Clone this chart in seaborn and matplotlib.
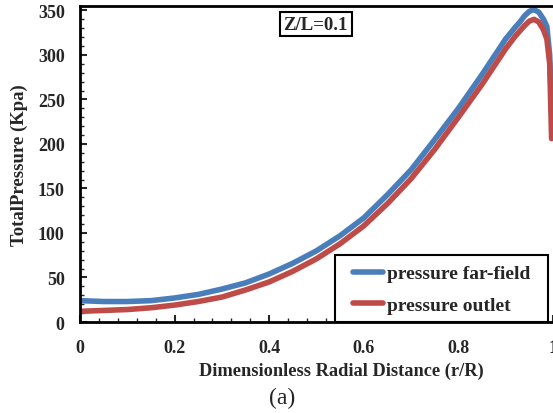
import numpy as np
import pandas as pd
import matplotlib
matplotlib.use('Agg')
import matplotlib.pyplot as plt
import seaborn as sns
from matplotlib.ticker import MultipleLocator
from matplotlib.patches import Rectangle

# data
r_dist = [0, 0.05, 0.1, 0.15, 0.2, 0.25, 0.3, 0.35, 0.4, 0.45, 0.5, 0.55, 0.6, 0.65,
          0.7, 0.75, 0.8, 0.85, 0.9, 0.92, 0.93, 0.94, 0.95, 0.96, 0.97, 0.98, 0.987, 0.993, 0.997]
far_field = [24, 23, 23, 24, 27, 31, 37, 44, 54, 66, 80, 97, 117, 143,
             171, 205, 240, 278, 318, 331, 337, 344, 349, 351, 348, 340, 332, 300, 240]
outlet = [12, 13, 14, 16, 19, 23, 28, 36, 45, 57, 71, 88, 108, 133,
          161, 194, 230, 267, 307, 321, 327, 333, 338, 340, 337, 328, 318, 290, 206]
series_names = ['pressure far-field', 'pressure outlet']
series_colors = ['#4a7ebb', '#be4b48']

df = pd.DataFrame({
    'r': r_dist * 2,
    'p': far_field + outlet,
    'series': [series_names[0]] * len(r_dist) + [series_names[1]] * len(r_dist),
})

sns.set_style('ticks')
plt.rcParams['font.family'] = ['Liberation Serif', 'DejaVu Serif']
plt.rcParams['font.weight'] = 'bold'

fig = plt.figure(figsize=(5.53, 4.14), dpi=100)
ax = fig.add_axes([0.1447, 0.2198, 0.8553, 0.7633])

sns.lineplot(data=df, x='r', y='p', hue='series', palette=series_colors,
             linewidth=4, sort=False, ax=ax)

ax.set_xlim(0, 1)
ax.set_ylim(0, 355)
ax.xaxis.set_major_locator(MultipleLocator(0.2))
ax.xaxis.set_minor_locator(MultipleLocator(0.04))
ax.yaxis.set_major_locator(MultipleLocator(50))
ax.yaxis.set_minor_locator(MultipleLocator(10))
ax.tick_params(which='major', direction='in', length=5, width=1.5, labelsize=13)
ax.tick_params(axis='x', which='major', pad=12)
ax.tick_params(axis='y', which='major', pad=11)
ax.tick_params(which='minor', direction='in', length=3, width=1)
ax.set_xticks([0, 0.2, 0.4, 0.6, 0.8, 1.0])
ax.set_xticklabels(['0', '0.2', '0.4', '0.6', '0.8', '1'])
for lab in ax.get_xticklabels() + ax.get_yticklabels():
    lab.set_fontweight('bold')

for s in ['left', 'bottom', 'top']:
    ax.spines[s].set_linewidth(2)
    ax.spines[s].set_color('black')
ax.spines['right'].set_visible(False)

ax.set_xlabel('Dimensionless Radial Distance (r/R)', fontsize=13.2, fontweight='bold', labelpad=4)
ax.xaxis.set_label_coords(0.552, -0.125)
ax.set_ylabel('TotalPressure (Kpa)', fontsize=13.5, fontweight='bold', labelpad=7)

ax.text(0.498, 0.943, 'Z/L=0.1', transform=ax.transAxes, fontsize=13.5, fontweight='bold',
        ha='center', va='center',
        bbox=dict(boxstyle='square,pad=0.2', facecolor='white', edgecolor='black', linewidth=1.5))

# legend box drawn separately so the padding matches the reference
ax.add_patch(Rectangle((0.539, 0.0), 0.45, 0.212, transform=ax.transAxes,
                       facecolor='white', edgecolor='black', linewidth=1.5,
                       zorder=4, clip_on=False))
leg = ax.legend(loc='center left', bbox_to_anchor=(0.577, 0.104), borderaxespad=0,
                borderpad=0, frameon=False,
                prop={'size': 14, 'weight': 'bold'}, handlelength=1.55,
                labelspacing=0.7, handletextpad=0.2)
leg.set_zorder(5)

fig.text(0.511, 0.037, '(a)', fontsize=17, fontweight='normal', ha='center', va='center')

fig.savefig('out.png', dpi=100)
